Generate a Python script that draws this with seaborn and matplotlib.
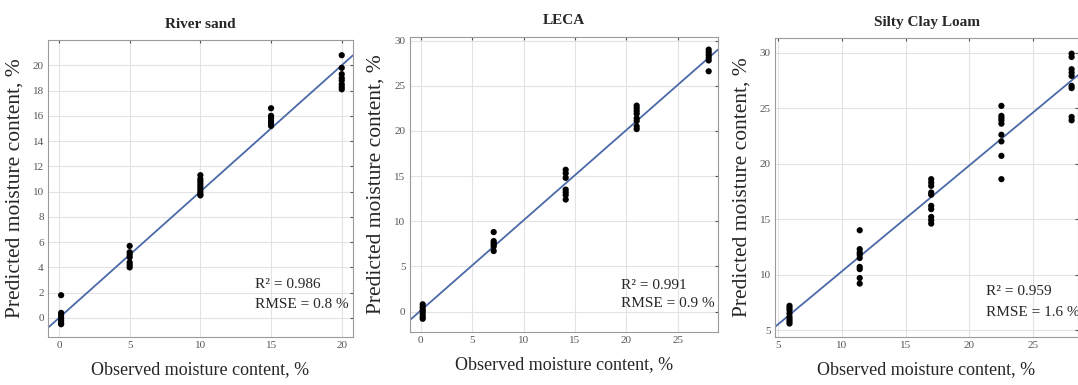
import numpy as np
import pandas as pd
import matplotlib
matplotlib.use("Agg")
import matplotlib.pyplot as plt
import seaborn as sns

# River sand
sand_obs = [0.15] * 7 + [5] * 7 + [10] * 9 + [15] * 6 + [20] * 8
sand_pred = [1.8, 0.4, 0.2, 0.0, -0.2, -0.4, -0.5,
             5.7, 5.2, 5.0, 4.8, 4.4, 4.2, 4.0,
             11.3, 11.0, 10.8, 10.6, 10.4, 10.2, 10.0, 9.8, 9.7,
             16.6, 16.0, 15.8, 15.6, 15.4, 15.2,
             20.8, 19.8, 19.3, 19.0, 18.8, 18.5, 18.3, 18.1]

# LECA
leca_obs = [0.2] * 7 + [7.1] * 6 + [14.1] * 7 + [21.0] * 8 + [28.0] * 6
leca_pred = [0.8, 0.5, 0.2, 0.0, -0.3, -0.6, -0.8,
             8.8, 7.8, 7.6, 7.4, 7.2, 6.7,
             15.7, 15.3, 14.8, 13.5, 13.2, 12.9, 12.4,
             22.8, 22.5, 22.2, 21.9, 21.4, 21.1, 20.5, 20.2,
             29.0, 28.7, 28.4, 28.1, 27.8, 26.6]

# Silty Clay Loam
scl_obs = [5.9] * 8 + [11.4] * 9 + [17.0] * 10 + [22.5] * 9 + [28.0] * 9
scl_pred = [7.2, 7.0, 6.8, 6.5, 6.2, 6.0, 5.8, 5.6,
            14.0, 12.3, 12.0, 11.8, 11.5, 10.7, 10.5, 9.7, 9.2,
            18.6, 18.3, 18.0, 17.4, 17.2, 16.2, 15.9, 15.2, 14.9, 14.6,
            25.2, 24.3, 24.1, 23.9, 23.6, 22.6, 22.0, 20.7, 18.6,
            29.9, 29.6, 28.5, 28.2, 27.9, 27.0, 26.8, 24.2, 23.9]

titles = ["River sand", "LECA", "Silty Clay Loam"]
r2 = ["0.986", "0.991", "0.959"]
rmse = ["0.8", "0.9", "1.6"]
fit_slope = [1.0, 1.0, 0.955]
fit_intercept = [0.0, 0.1, 0.75]

sns.set_style("whitegrid")
plt.rcParams["font.family"] = ["Liberation Serif", "DejaVu Serif"]

fig = plt.figure(figsize=(10.78, 3.85), dpi=100)
positions = [[0.0445, 0.125, 0.283, 0.771],
             [0.380, 0.138, 0.286, 0.766],
             [0.719, 0.125, 0.281, 0.776]]
xlims = [(-0.78, 20.8), (-1.07, 28.9), (4.77, 28.5)]
ylims = [(-1.5, 22.0), (-2.25, 30.4), (4.4, 31.3)]
xticks = [range(0, 21, 5), range(0, 26, 5), range(5, 26, 5)]
yticks = [range(0, 21, 2), range(0, 31, 5), range(5, 31, 5)]
text_pos = [(0.68, 0.165, 0.098), (0.687, 0.145, 0.085), (0.696, 0.14, 0.07)]

datasets = [(sand_obs, sand_pred), (leca_obs, leca_pred), (scl_obs, scl_pred)]

for i, (obs, pred) in enumerate(datasets):
    ax = fig.add_axes(positions[i])
    df = pd.DataFrame({"obs": obs, "pred": pred})
    xs = np.array(xlims[i])
    line = pd.DataFrame({"x": xs, "y": fit_slope[i] * xs + fit_intercept[i]})
    sns.lineplot(data=line, x="x", y="y", ax=ax, color="#4b69a8", linewidth=1.3, zorder=2)
    sns.scatterplot(data=df, x="obs", y="pred", ax=ax, color="black", s=20,
                    edgecolor="none", zorder=3)
    ax.set_xlim(xlims[i])
    ax.set_ylim(ylims[i])
    ax.set_xticks(list(xticks[i]))
    ax.set_yticks(list(yticks[i]))
    ax.grid(True, color="#e3e3e3", linewidth=0.8)
    for sp in ax.spines.values():
        sp.set_color("#9a9a9a")
        sp.set_linewidth(0.8)
    ax.tick_params(axis="both", labelsize=8, colors="#555555", length=2.5,
                   direction="in", top=True, right=True, pad=3)
    ax.set_title(titles[i], fontsize=11, fontweight="bold", pad=9)
    ax.set_xlabel("Observed moisture content, %", fontsize=13, labelpad=8)
    ax.set_ylabel("Predicted moisture content, %", fontsize=15.5, labelpad=6)
    tx, ty1, ty2 = text_pos[i]
    ax.text(tx, ty1, "R\u00b2 = " + r2[i], transform=ax.transAxes, fontsize=11)
    ax.text(tx, ty2, "RMSE = " + rmse[i] + " %", transform=ax.transAxes, fontsize=11)

fig.savefig("out.png", dpi=100)
